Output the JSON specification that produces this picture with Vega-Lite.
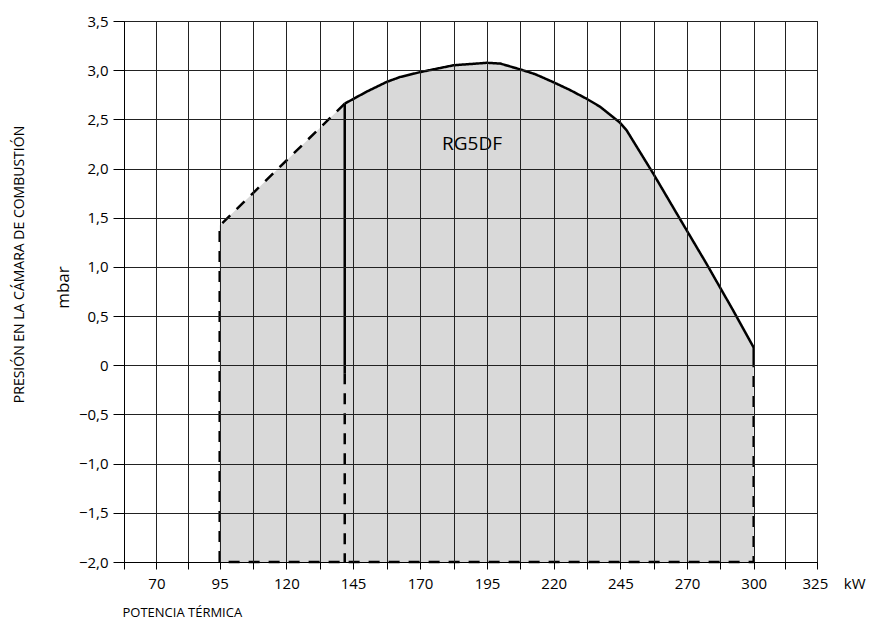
{
  "$schema": "https://vega.github.io/schema/vega-lite/v6.json",
  "width": 693,
  "height": 541,
  "autosize": {"type": "none"},
  "padding": {"left": 124, "top": 21, "right": 54, "bottom": 57},
  "background": "white",
  "config": {
    "font": "Open Sans",
    "view": {"stroke": "#222", "strokeWidth": 1}
  },
  "title": {
    "text": "PRESIÓN EN LA CÁMARA DE COMBUSTIÓN",
    "orient": "left",
    "anchor": "middle",
    "font": "Open Sans",
    "fontSize": 14,
    "fontWeight": "normal",
    "color": "#000",
    "offset": 27,
    "dx": 27
  },
  "datasets": {
    "outline": [
      {"kw": 95, "p": 1.42},
      {"kw": 141.9, "p": 2.66},
      {"kw": 150, "p": 2.78},
      {"kw": 157.5, "p": 2.88},
      {"kw": 162.5, "p": 2.93},
      {"kw": 170, "p": 2.98},
      {"kw": 182.5, "p": 3.05},
      {"kw": 195, "p": 3.075},
      {"kw": 200, "p": 3.067},
      {"kw": 207.2, "p": 3.01},
      {"kw": 213, "p": 2.96},
      {"kw": 219.7, "p": 2.88},
      {"kw": 226, "p": 2.8},
      {"kw": 232.3, "p": 2.71},
      {"kw": 237.3, "p": 2.63},
      {"kw": 244.7, "p": 2.47},
      {"kw": 247.3, "p": 2.39},
      {"kw": 257.3, "p": 1.95},
      {"kw": 267.3, "p": 1.49},
      {"kw": 278.7, "p": 1.035},
      {"kw": 290.7, "p": 0.56},
      {"kw": 300, "p": 0.18}
    ],
    "lines": [
      {"seg": "top", "style": "solid", "o": 1, "kw": 141.9, "p": 2.66},
      {"seg": "top", "style": "solid", "o": 2, "kw": 150, "p": 2.78},
      {"seg": "top", "style": "solid", "o": 3, "kw": 157.5, "p": 2.88},
      {"seg": "top", "style": "solid", "o": 4, "kw": 162.5, "p": 2.93},
      {"seg": "top", "style": "solid", "o": 5, "kw": 170, "p": 2.98},
      {"seg": "top", "style": "solid", "o": 6, "kw": 182.5, "p": 3.05},
      {"seg": "top", "style": "solid", "o": 7, "kw": 195, "p": 3.075},
      {"seg": "top", "style": "solid", "o": 8, "kw": 200, "p": 3.067},
      {"seg": "top", "style": "solid", "o": 9, "kw": 207.2, "p": 3.01},
      {"seg": "top", "style": "solid", "o": 10, "kw": 213, "p": 2.96},
      {"seg": "top", "style": "solid", "o": 11, "kw": 219.7, "p": 2.88},
      {"seg": "top", "style": "solid", "o": 12, "kw": 226, "p": 2.8},
      {"seg": "top", "style": "solid", "o": 13, "kw": 232.3, "p": 2.71},
      {"seg": "top", "style": "solid", "o": 14, "kw": 237.3, "p": 2.63},
      {"seg": "top", "style": "solid", "o": 15, "kw": 244.7, "p": 2.47},
      {"seg": "top", "style": "solid", "o": 16, "kw": 247.3, "p": 2.39},
      {"seg": "top", "style": "solid", "o": 17, "kw": 257.3, "p": 1.95},
      {"seg": "top", "style": "solid", "o": 18, "kw": 267.3, "p": 1.49},
      {"seg": "top", "style": "solid", "o": 19, "kw": 278.7, "p": 1.035},
      {"seg": "top", "style": "solid", "o": 20, "kw": 290.7, "p": 0.56},
      {"seg": "top", "style": "solid", "o": 21, "kw": 300, "p": 0.18},
      {"seg": "top", "style": "solid", "o": 22, "kw": 300, "p": -0.02},
      {"seg": "vert", "style": "solid", "o": 1, "kw": 141.9, "p": 2.66},
      {"seg": "vert", "style": "solid", "o": 2, "kw": 141.9, "p": -0.08},
      {"seg": "vertdash", "style": "dashed", "o": 1, "kw": 141.9, "p": -0.08},
      {"seg": "vertdash", "style": "dashed", "o": 2, "kw": 141.9, "p": -2},
      {"seg": "border", "style": "dashed", "o": 1, "kw": 141.9, "p": 2.66},
      {"seg": "border", "style": "dashed", "o": 2, "kw": 95, "p": 1.42},
      {"seg": "border", "style": "dashed", "o": 3, "kw": 95, "p": -2},
      {"seg": "border", "style": "dashed", "o": 4, "kw": 300, "p": -2},
      {"seg": "border", "style": "dashed", "o": 5, "kw": 300, "p": -0.02}
    ],
    "labels": [
      {"kw": 189.4, "p": 2.247, "text": "RG5DF"}
    ]
  },
  "layer": [
    {
      "data": {"name": "outline"},
      "mark": {"type": "area", "color": "#d9d9d9", "opacity": 1},
      "encoding": {
        "x": {
          "field": "kw",
          "type": "quantitative",
          "scale": {"domain": [57.5, 70, 95, 145, 195, 245, 270, 300, 325], "range": [0, 32.4, 95.7, 229, 363, 496.4, 563, 629.7, 693], "zero": false, "nice": false},
          "axis": {
            "values": [57.5, 70, 82.5, 95, 107.5, 120, 132.5, 145, 157.5, 170, 182.5, 195, 207.5, 220, 232.5, 245, 257.5, 270, 285, 300, 312.5, 325],
            "tickCount": 40,
            "labelExpr": "datum.value == 325 ? '325\u00a0\u00a0\u00a0\u00a0kW' : (indexof([70,95,120,145,170,195,220,245,270,300], datum.value) >= 0 ? datum.label : '')",
            "labelAlign": {"condition": {"test": "datum.value == 325", "value": "left"}, "value": "center"},
            "labelOffset": {"condition": {"test": "datum.value == 325", "value": -15}, "value": 0},
            "labelFlush": false,
            "labelOverlap": false,
            "labelBound": false,
            "labelFont": "Open Sans",
            "labelFontSize": 15,
            "labelColor": "#000",
            "labelPadding": 7,
            "title": "POTENCIA TÉRMICA",
            "titleFont": "Open Sans",
            "titleFontSize": 13,
            "titleFontWeight": "normal",
            "titleColor": "#000",
            "titleX": -2,
            "titleY": 54,
            "titleAlign": "left",
            "titleBaseline": "alphabetic",
            "grid": true,
            "gridColor": "#222",
            "gridWidth": 1,
            "gridOpacity": 1,
            "domainColor": "#000",
            "domainWidth": 1,
            "tickColor": "#000",
            "tickSize": 7,
            "tickWidth": 1,
            "zindex": 1
          }
        },
        "y": {
          "field": "p",
          "type": "quantitative",
          "scale": {"domain": [-2, 3.5], "zero": false, "nice": false},
          "axis": {
            "values": [-2, -1.5, -1, -0.5, 0, 0.5, 1, 1.5, 2, 2.5, 3, 3.5],
            "tickCount": 40,
            "labelExpr": "datum.value == 0 ? '0' : replace(format(datum.value, '.1f'), '.', ',')",
            "labelFont": "Open Sans",
            "labelFontSize": 15,
            "labelColor": "#000",
            "labelPadding": 5,
            "title": "mbar",
            "titleFont": "Open Sans",
            "titleFontSize": 17,
            "titleFontWeight": "normal",
            "titleColor": "#000",
            "titleAngle": -90,
            "titleX": -61,
            "titleY": 266,
            "titleAlign": "center",
            "titleBaseline": "middle",
            "grid": true,
            "gridColor": "#222",
            "gridWidth": 1,
            "gridOpacity": 1,
            "domainColor": "#000",
            "domainWidth": 1,
            "tickColor": "#000",
            "tickSize": 11,
            "tickWidth": 1,
            "zindex": 1
          }
        },
        "y2": {"datum": -2}
      }
    },
    {
      "data": {"name": "lines"},
      "mark": {"type": "line", "color": "#000", "strokeWidth": 2.5, "strokeCap": "butt", "strokeJoin": "miter"},
      "encoding": {
        "x": {"field": "kw", "type": "quantitative"},
        "y": {"field": "p", "type": "quantitative"},
        "detail": {"field": "seg", "type": "nominal"},
        "order": {"field": "o", "type": "quantitative"},
        "strokeDash": {
          "field": "style",
          "type": "nominal",
          "scale": {"domain": ["solid", "dashed"], "range": [[1, 0], [11, 9]]},
          "legend": null
        }
      }
    },
    {
      "data": {"name": "labels"},
      "mark": {"type": "text", "font": "Open Sans", "fontSize": 19, "color": "#000", "align": "center", "baseline": "middle"},
      "encoding": {
        "x": {"field": "kw", "type": "quantitative"},
        "y": {"field": "p", "type": "quantitative"},
        "text": {"field": "text", "type": "nominal"}
      }
    }
  ]
}
